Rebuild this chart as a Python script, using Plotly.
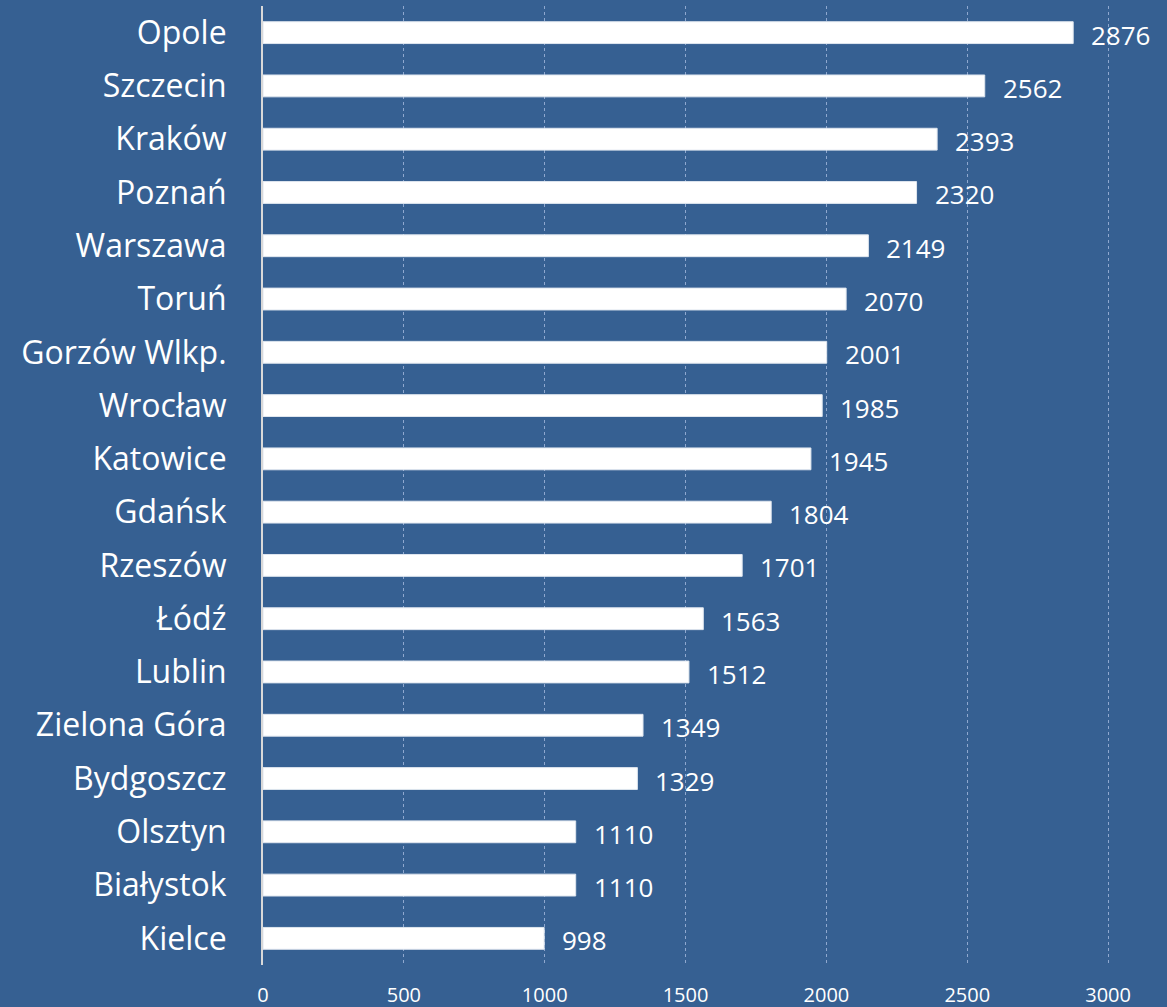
import plotly.graph_objects as go

cities = ["Opole", "Szczecin", "Kraków", "Poznań", "Warszawa", "Toruń", "Gorzów Wlkp.",
          "Wrocław", "Katowice", "Gdańsk", "Rzeszów", "Łódź", "Lublin", "Zielona Góra",
          "Bydgoszcz", "Olsztyn", "Białystok", "Kielce"]
values = [2876, 2562, 2393, 2320, 2149, 2070, 2001, 1985, 1945, 1804, 1701, 1563, 1512,
          1349, 1329, 1110, 1110, 998]
tick_vals = [0, 500, 1000, 1500, 2000, 2500, 3000]

BG = "#366092"
FONT = "Open Sans"

fig = go.Figure()
fig.add_trace(go.Bar(
    x=values, y=cities, orientation="h",
    marker=dict(color="white", line=dict(color="#dfe6ef", width=1)),
    width=0.41,
    hoverinfo="x+y",
))

for c, v in zip(cities, values):
    fig.add_annotation(x=v, y=c, text=str(v), showarrow=False, xanchor="left",
                       xshift=16, yshift=-2, font=dict(family=FONT, size=26, color="white"))

fig.update_layout(
    width=1167, height=1007,
    paper_bgcolor=BG, plot_bgcolor=BG,
    margin=dict(l=263, r=0, t=6, b=42),
    showlegend=False,
    bargap=0.59,
    xaxis=dict(range=[0, 3209], tickvals=tick_vals, ticktext=[str(t) for t in tick_vals],
               showgrid=True, gridcolor="#8fa8cf", griddash="dot", gridwidth=1,
               zeroline=False, showline=False,
               tickfont=dict(family=FONT, size=20, color="white"),
               ticks="outside", ticklen=12, tickcolor="rgba(0,0,0,0)",
               automargin=False, fixedrange=True),
    yaxis=dict(categoryorder="array", categoryarray=cities[::-1],
               showgrid=False, showline=True, linecolor="#d9d9d9", linewidth=2,
               tickfont=dict(family=FONT, size=32, color="white"),
               ticks="outside", ticklen=28, tickcolor="rgba(0,0,0,0)",
               automargin=False, fixedrange=True),
)

fig.write_html("out.html", config={"displayModeBar": False},
               post_script="document.body.style.margin='0';document.body.style.background='" + BG + "';")
